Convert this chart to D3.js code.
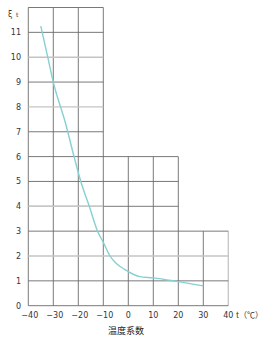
<!DOCTYPE html>
<html>
<head>
<meta charset="utf-8">
<script src="https://cdn.jsdelivr.net/npm/d3@7"></script>
<style>
  html, body { margin: 0; padding: 0; background: #fff; }
  svg { display: block; }
  text { font-family: "DejaVu Sans", sans-serif; }
</style>
</head>
<body>
<svg id="chart"></svg>
<script>
// Overall dimension of the canvas
const width = 267, height = 341;

// curve: temperature (°C) vs coefficient
const temps  = [-35, -32, -30, -25, -21.7, -19, -15.6, -12.3, -10, -7.3, -5, -1.3, 0, 4.6, 10, 20, 30];
const coeffs = [11.25, 9.9, 9.0, 7.3, 6.0, 5.0, 4.0, 3.0, 2.55, 2.0, 1.72, 1.45, 1.37, 1.17, 1.12, 0.97, 0.8];

// stepped grid: each block goes up to its own top value
const blockStart = [-40, -10, 20];
const blockEnd   = [-10, 20, 40];
const blockTop   = [12, 6, 3];

const xTicks = [-40, -30, -20, -10, 0, 10, 20, 30, 40];
const yTicks = [0, 1, 2, 3, 4, 5, 6, 7, 8, 9, 10, 11];
// a few grid lines that print lighter in the scan
const lightRows = [10, 8, 2];

const x = d3.scaleLinear().domain([-40, 40]).range([28.3, 228.3]);
const y = d3.scaleLinear().domain([0, 12]).range([305.7, 7.5]);

const svg = d3.select("#chart").attr("width", width).attr("height", height);
const grid = svg.append("g");

// top of the grid at a given x value
function topAt(v) {
    let t = 0;
    blockStart.forEach((s, i) => { if (v >= s && v <= blockEnd[i]) t = Math.max(t, blockTop[i]); });
    return t;
}
// right end of a horizontal grid line at level h
function rightAt(h) {
    let r = -40;
    blockEnd.forEach((e, i) => { if (blockTop[i] >= h) r = Math.max(r, e); });
    return r;
}

grid.selectAll(".vline")
    .data(xTicks)
    .join("line")
    .attr("x1", d => x(d)).attr("x2", d => x(d))
    .attr("y1", y(0)).attr("y2", d => y(topAt(d)))
    .attr("stroke", d => d === 40 ? "#c8c8c8" : "#6a6a6a")
    .attr("stroke-width", d => d === 40 ? 1.4 : 0.9);

grid.selectAll(".hline")
    .data(d3.range(0, 13))
    .join("line")
    .attr("x1", x(-40)).attr("x2", d => x(rightAt(d)))
    .attr("y1", d => y(d)).attr("y2", d => y(d))
    .attr("stroke", d => lightRows.includes(d) ? "#c4c4c4" : "#6a6a6a")
    .attr("stroke-width", d => lightRows.includes(d) ? 1.4 : 0.9);

// the light part of row 4 on the left block
grid.append("line")
    .attr("x1", x(-40)).attr("x2", x(-10))
    .attr("y1", y(4)).attr("y2", y(4))
    .attr("stroke", "#c8c8c8").attr("stroke-width", 1.4);

// curve
const pts = temps.map((t, i) => [t, coeffs[i]]);
svg.append("path")
    .datum(pts)
    .attr("d", d3.line().x(d => x(d[0])).y(d => y(d[1])).curve(d3.curveMonotoneX))
    .attr("fill", "none")
    .attr("stroke", "#86d0d2")
    .attr("stroke-width", 1.4);

// tick labels
svg.selectAll(".ylab")
    .data(yTicks)
    .join("text")
    .attr("x", 21).attr("y", d => y(d) + 3)
    .attr("text-anchor", "end")
    .style("font-size", "8px")
    .style("fill", "#333344")
    .text(d => d);

svg.selectAll(".xlab")
    .data(xTicks)
    .join("text")
    .attr("x", d => x(d) + (d < 0 ? 1.5 : 0)).attr("y", 318)
    .attr("text-anchor", "middle")
    .style("font-size", "8px")
    .style("fill", "#333344")
    .text(d => d < 0 ? "\u2212" + Math.abs(d) : d);

// axis names
svg.append("text")
    .attr("x", 8).attr("y", 17)
    .style("font-size", "8px").style("fill", "#333")
    .text("ξ");
svg.append("text")
    .attr("x", 16).attr("y", 17)
    .style("font-size", "6px").style("fill", "#333")
    .text("t");
svg.append("text")
    .attr("x", 236).attr("y", 318)
    .style("font-size", "8px").style("fill", "#333")
    .style("font-family", "'Noto Sans CJK SC', sans-serif")
    .text("t（℃）");

svg.append("text")
    .attr("x", 126).attr("y", 334)
    .attr("text-anchor", "middle")
    .style("font-size", "9px").style("fill", "#222")
    .style("font-family", "'Noto Sans CJK SC', sans-serif")
    .text("温度系数");
</script>
</body>
</html>
